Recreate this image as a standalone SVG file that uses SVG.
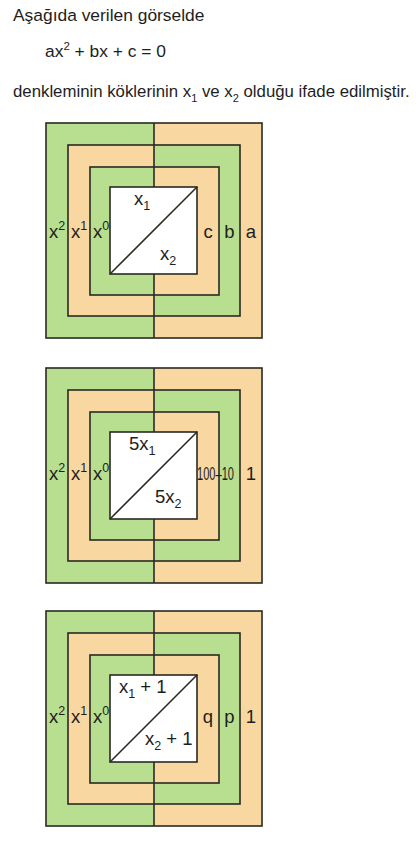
<svg xmlns="http://www.w3.org/2000/svg" width="420" height="851" viewBox="0 0 420 851">
<style>
text{font-family:"Liberation Sans",Arial,sans-serif;fill:#1e1e1e}
.t{font-size:17.4px}
.l{font-size:18.5px}
.g{fill:#b8de8f}
.o{fill:#f8d7a1}
.w{fill:#ffffff}
.s{fill:none;stroke:#2a2a22;stroke-width:1.6}
</style>
<defs>
<g id="base">
<rect class="g" x="0" y="0" width="108" height="215"/>
<rect class="o" x="108" y="0" width="108" height="215"/>
<rect class="o" x="22" y="22" width="86" height="171"/>
<rect class="g" x="108" y="22" width="86" height="171"/>
<rect class="g" x="44" y="44" width="64" height="128"/>
<rect class="o" x="108" y="44" width="65" height="128"/>
<rect class="w" x="64" y="64" width="87" height="87"/>
<rect class="s" x="0" y="0" width="216" height="215"/>
<rect class="s" x="22" y="22" width="172" height="171"/>
<rect class="s" x="44" y="44" width="129" height="128"/>
<rect class="s" x="64" y="64" width="87" height="87"/>
<line class="s" x1="108" y1="0" x2="108" y2="64"/>
<line class="s" x1="108" y1="151" x2="108" y2="215"/>
<line class="s" x1="64" y1="151" x2="151" y2="64"/>
</g>
</defs>
<g id="intro">
<text class="t" x="13" y="21">Aşağıda verilen görselde</text>
<text class="t" x="45" y="57">ax<tspan font-size="11.5" dy="-7.5">2</tspan><tspan dy="7.5"> + bx + c = 0</tspan></text>
<text class="t" x="13" y="97" style="font-size:16.8px">denkleminin köklerinin x<tspan font-size="11" dy="5">1</tspan><tspan dy="-5"> ve x</tspan><tspan font-size="11" dy="5">2</tspan><tspan dy="-5"> olduğu ifade edilmiştir.</tspan></text>
</g>
<g id="square1" transform="translate(46,123)">
<use href="#base"/>
<text class="l" x="11" y="115" text-anchor="middle">x<tspan font-size="12.5" dy="-8">2</tspan></text>
<text class="l" x="33" y="115" text-anchor="middle">x<tspan font-size="12.5" dy="-8">1</tspan></text>
<text class="l" x="55" y="115" text-anchor="middle">x<tspan font-size="12.5" dy="-8">0</tspan></text>
<text class="l" x="162" y="115" text-anchor="middle">c</text>
<text class="l" x="183.5" y="115" text-anchor="middle">b</text>
<text class="l" x="205" y="115" text-anchor="middle">a</text>
<text class="l" x="88" y="82">x<tspan font-size="12.5" dy="5">1</tspan></text>
<text class="l" x="114" y="137">x<tspan font-size="12.5" dy="5">2</tspan></text>
</g>
<g id="square2" transform="translate(46,368)">
<use href="#base"/>
<text class="l" x="11" y="112" text-anchor="middle">x<tspan font-size="12.5" dy="-8">2</tspan></text>
<text class="l" x="33" y="112" text-anchor="middle">x<tspan font-size="12.5" dy="-8">1</tspan></text>
<text class="l" x="55" y="112" text-anchor="middle">x<tspan font-size="12.5" dy="-8">0</tspan></text>
<text class="l" x="0" y="0" transform="translate(151,112) scale(0.6,1)">100–10</text>
<text class="l" x="205" y="112" text-anchor="middle">1</text>
<text class="l" x="83" y="82">5x<tspan font-size="12.5" dy="5">1</tspan></text>
<text class="l" x="109" y="135">5x<tspan font-size="12.5" dy="5">2</tspan></text>
</g>
<g id="square3" transform="translate(46,611)">
<use href="#base"/>
<text class="l" x="11" y="112" text-anchor="middle">x<tspan font-size="12.5" dy="-8">2</tspan></text>
<text class="l" x="33" y="112" text-anchor="middle">x<tspan font-size="12.5" dy="-8">1</tspan></text>
<text class="l" x="55" y="112" text-anchor="middle">x<tspan font-size="12.5" dy="-8">0</tspan></text>
<text class="l" x="162" y="112" text-anchor="middle">q</text>
<text class="l" x="183.5" y="112" text-anchor="middle">p</text>
<text class="l" x="205" y="112" text-anchor="middle">1</text>
<text class="l" x="73" y="82">x<tspan font-size="12.5" dy="5">1</tspan><tspan dy="-5"> + 1</tspan></text>
<text class="l" x="99" y="134">x<tspan font-size="12.5" dy="5">2</tspan><tspan dy="-5"> + 1</tspan></text>
</g>
</svg>
